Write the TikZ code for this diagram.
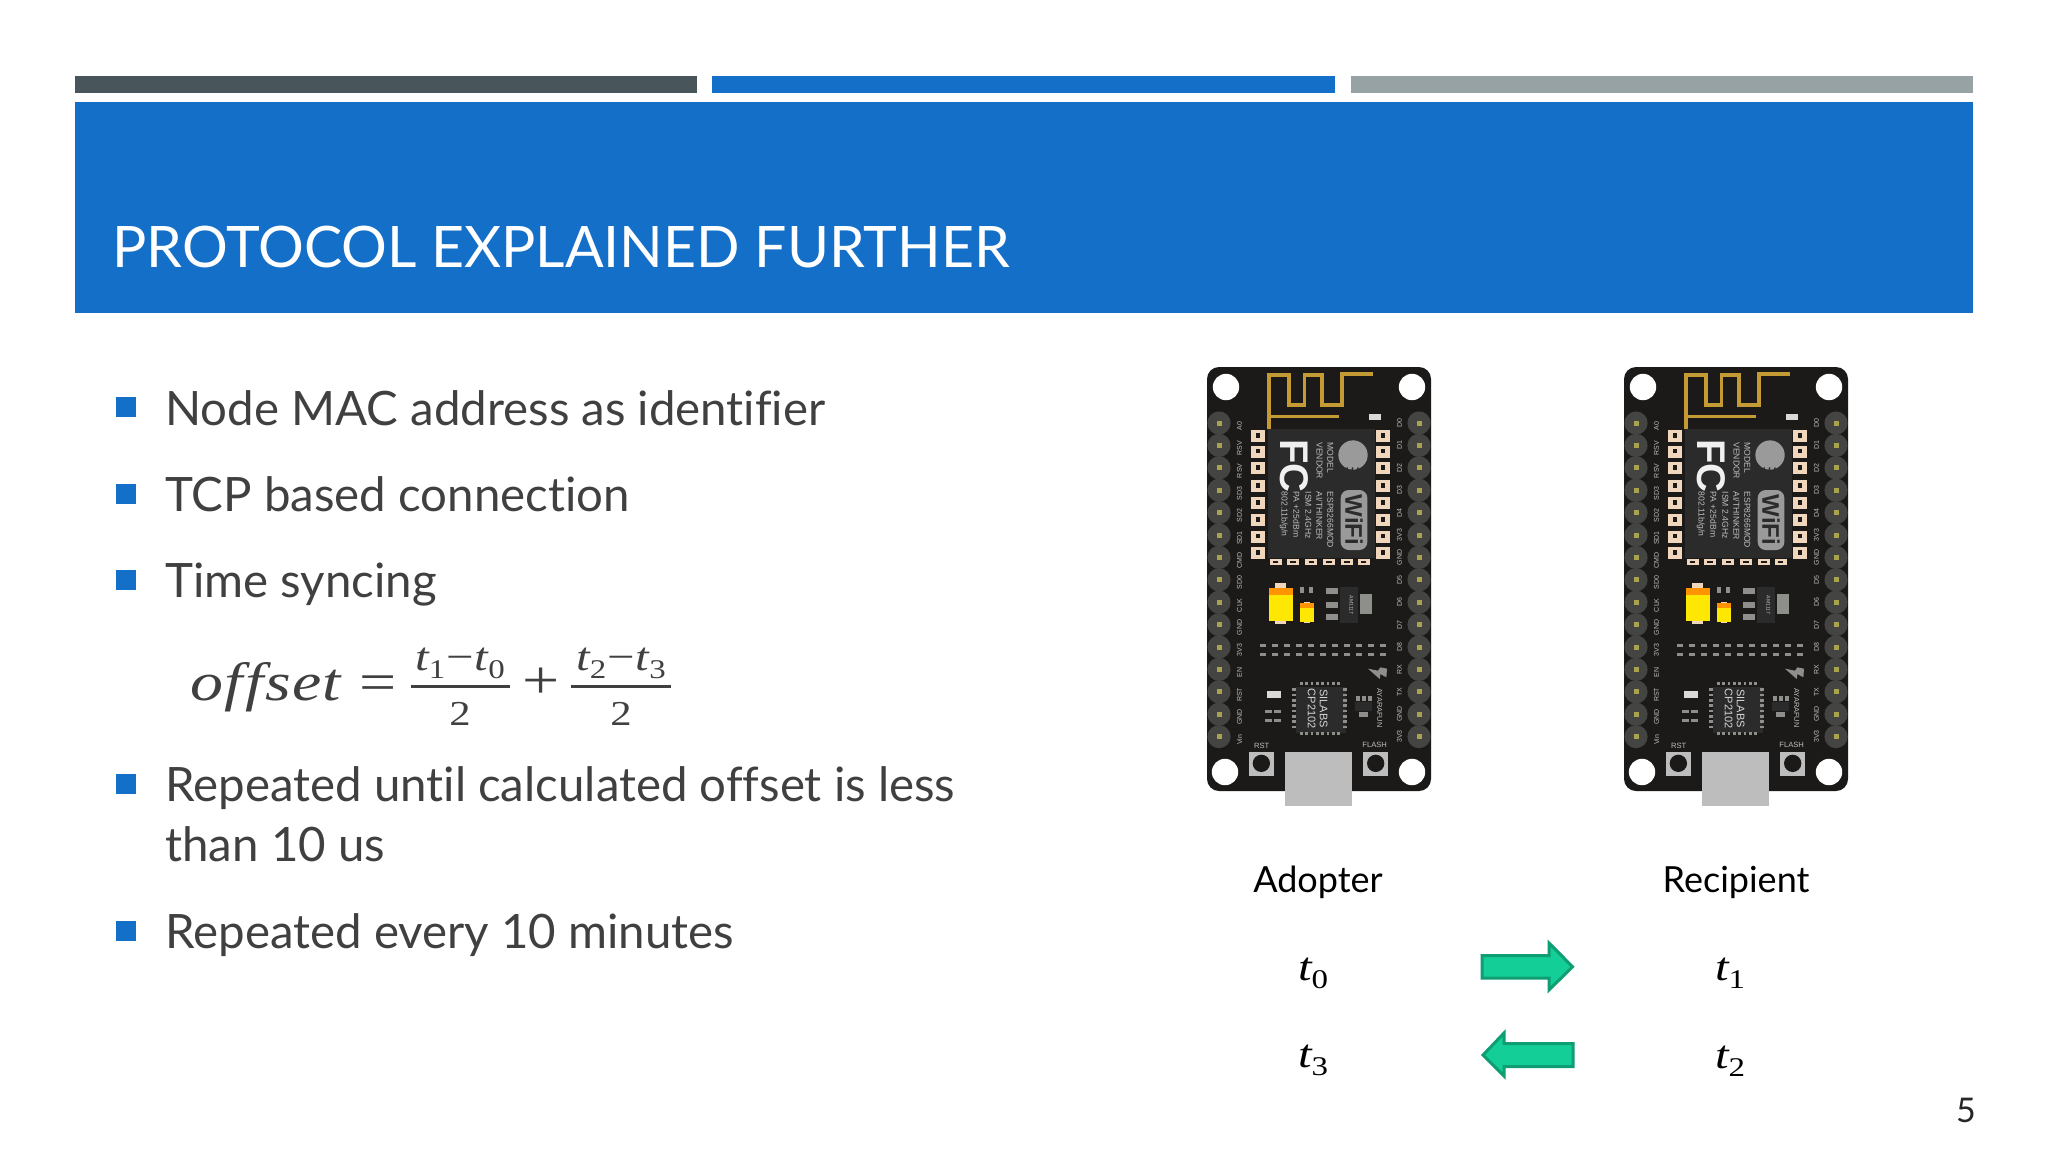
\documentclass[tikz,border=0pt]{standalone}
\usepackage{fontspec}
\setmainfont{Lato}[Ligatures=NoCommon]
\newfontfamily\boardfont{Liberation Sans}
\newfontfamily\eqfont{Liberation Serif}[FakeStretch=1.22]
\definecolor{barDark}{HTML}{48555A}
\definecolor{slideBlue}{HTML}{146FC9}
\definecolor{barGray}{HTML}{97A2A5}
\definecolor{bodyText}{HTML}{404040}
\definecolor{pcb}{HTML}{1B1A19}
\definecolor{header}{HTML}{444442}
\definecolor{pinCol}{HTML}{A9A24E}
\definecolor{gold}{HTML}{C49A35}
\definecolor{pad}{HTML}{EFD6BC}
\definecolor{chip}{HTML}{2B2B2B}
\definecolor{smd}{HTML}{8E8E8A}
\definecolor{lbl}{HTML}{BDBDBD}
\definecolor{logo}{HTML}{9A9A9A}
\definecolor{arrowFill}{HTML}{13CE96}
\definecolor{arrowEdge}{HTML}{0F9E73}
\newcommand{\fsz}[1]{\fontsize{#1}{#1}\selectfont}
% t with an upright subscript, as the slide's equation font sets it
\newcommand{\tsub}[1]{{\itshape t}\raisebox{-4pt}{\fsz{13.5}\upshape #1}}
\tikzset{
  x=0.5pt,y=-0.5pt,
  zoomA/.style={shift={(-17.33,-17)},x=0.16667pt,y=-0.16667pt},
  zoomB/.style={shift={(-17.33,203)},x=0.16667pt,y=-0.16667pt},
  bodyline/.style={anchor=base west,inner sep=0,text=bodyText,font=\fsz{23.7}},
  bullet/.style={fill=slideBlue,draw=none},
  sidelabel/.style={inner sep=0,text=black,font=\fsz{18}},
  mathlabel/.style={inner sep=0,anchor=base,text=black,font=\eqfont\fsz{20}},
  eqbig/.style={inner sep=0,anchor=base,text=bodyText,font=\eqfont\fsz{27}},
  eqsmall/.style={inner sep=0,anchor=base,text=bodyText,font=\eqfont\fsz{20}},
  eqtwo/.style={inner sep=0,anchor=base,text=bodyText,font=\eqfont\fsz{17.5}},
  eqbar/.style={draw=bodyText,line width=1.5pt},
  flowarrow/.style={fill=arrowFill,draw=arrowEdge,line width=1.5pt,line join=miter},
  pinlabel/.style={inner sep=0,rotate=90,text=lbl,font=\boardfont\fsz{3.5}},
  modtext/.style={inner sep=0,rotate=-90,anchor=north west,text=lbl,font=\boardfont\fsz{4.3}},
  pics/board/.style={code={
    \fill[pcb,rounded corners=6pt] (0,0) rectangle (224,424);
    \foreach \i in {0,...,14}{
      \fill[header] (12,56+22.4*\i) circle (11.6);
      \fill[header] (212,56+22.4*\i) circle (11.6);
      \fill[pinCol] (9.5,53.5+22.4*\i) rectangle (14.5,58.5+22.4*\i);
      \fill[pinCol] (209.5,53.5+22.4*\i) rectangle (214.5,58.5+22.4*\i);
    }
    \foreach \t [count=\i from 0] in {A0,RSV,RSV,SD3,SD2,SD1,CMD,SD0,CLK,GND,3V3,EN,RST,GND,Vin}
      \node[pinlabel] (l\i) at (32.5,59+22.4*\i) {\t};
    \foreach \t [count=\i from 0] in {D0,D1,D2,D3,D4,3V3,GND,D5,D6,D7,D8,RX,TX,GND,3V3}
      \node[pinlabel] (r\i) at (192.5,56+22.4*\i) {\t};
    \fill[white] (19,20) circle (13.2);
    \fill[white] (205,20) circle (13.2);
    \fill[white] (18,405) circle (13.2);
    \fill[white] (205,405) circle (13.2);
    \begin{scope}[zoomA]
      % antenna
      \draw[gold,line width=1.6pt,line join=miter] (238,238) -- (238,75) -- (298,75) -- (298,165) -- (345,165) -- (345,75) -- (397,75) -- (397,165) -- (457,165) -- (457,72) -- (550,72);
      \draw[gold,line width=1.6pt] (238,200) -- (448,200);
      \fill[white!85!black] (537,191) rectangle (575,211);
      % module
      \fill[chip] (235,238) rectangle (555,625);
      \foreach \y in {258,305,355,408,460,510,560,610}{
        \fill[pad] (183,\y-18) rectangle (227,\y+18);
        \fill[pcb] (198,\y-9) rectangle (212,\y+5);
        \fill[pad] (558,\y-18) rectangle (602,\y+18);
        \fill[pcb] (573,\y-9) rectangle (587,\y+5);
      }
      \foreach \x in {258,310,365,418,472,522}{
        \fill[pad] (\x-18,626) rectangle (\x+18,646);
        \fill[pcb] (\x-8,632) rectangle (\x+8,640);
      }
      % FC logo
      \node[inner sep=0,rotate=-90,text=white!88!gray,font=\boardfont\bfseries\fsz{20}] (fc) at (315,348) {FC};
      % text on the module
      \node[modtext] (m1) at (432,276) {MODEL};
      \node[modtext] (m2) at (400,276) {VENDOR};
      \node[modtext] (m3) at (432,424) {ESP8266MOD};
      \node[modtext] (m4) at (400,424) {AI/THINKER};
      \node[modtext] (m5) at (366,424) {ISM 2.4GHz};
      \node[modtext] (m6) at (331,424) {PA +25dBm};
      \node[modtext] (m7) at (296,424) {802.11b/g/n};
      % spiral logo
      \fill[logo] (490,315) circle (44);
      \foreach \r in {18,34,50}
        \draw[chip,line width=0.7pt] (455+\r,352) arc (0:90:\r);
      % WiFi badge
      \fill[logo,rounded corners=4pt] (453,420) rectangle (533,600);
      \node[inner sep=0,rotate=-90,text=chip,font=\boardfont\bfseries\fsz{12}] (wifi) at (493,510) {WiFi};
    \end{scope}
    \begin{scope}[zoomB]
      % capacitors
      \fill[pad] (255,40) rectangle (290,163);
      \fill[yellow!90!orange] (237,55) rectangle (310,152);
      \fill[orange!85!yellow] (237,55) rectangle (310,75);
      \fill[pad] (342,95) rectangle (362,160);
      \fill[yellow!90!orange] (332,100) rectangle (372,155);
      \fill[orange!85!yellow] (332,100) rectangle (372,115);
      \fill[smd] (332,50) rectangle (344,70);
      \fill[smd] (359,50) rectangle (371,70);
      % regulator
      \foreach \y in {55,95,132} \fill[smd] (410,\y) rectangle (445,\y+18);
      \fill[chip] (450,50) rectangle (505,160);
      \fill[smd] (512,73) rectangle (548,133);
      \node[inner sep=0,rotate=-90,text=lbl,font=\boardfont\fsz{2.6}] (reg) at (485,105) {AM1117};
      % dash rows
      \foreach \i in {0,...,10}{
        \fill[smd] (210+36*\i,222) rectangle (230+36*\i,231);
        \fill[smd] (210+36*\i,248) rectangle (230+36*\i,257);
      }
      % lightning logo
      \fill[smd] (535,296) -- (565,302) -- (572,292) -- (592,296) -- (590,322) -- (572,312) -- (570,327) -- cycle;
      \node[inner sep=0,rotate=-90,text=lbl,font=\boardfont\fsz{3.7}] (brand) at (570,414) {AYARAFUN};
      % USB bridge chip
      \fill[chip] (320,350) rectangle (470,490);
      \foreach \i in {0,...,7}{
        \fill[smd] (331+16*\i,335) rectangle (339+16*\i,345);
        \fill[smd] (331+16*\i,485) rectangle (339+16*\i,495);
        \fill[smd] (306,355+16*\i) rectangle (318,363+16*\i);
        \fill[smd] (460,355+16*\i) rectangle (472,363+16*\i);
      }
      \node[inner sep=0,rotate=-90,text=lbl!60!white,font=\boardfont\fsz{5.5}] (sil) at (402,416) {SILABS};
      \node[inner sep=0,rotate=-90,text=lbl!60!white,font=\boardfont\fsz{5.5}] (cp) at (366,416) {CP2102};
      % small parts
      \fill[white!85!black] (233,364) rectangle (273,384);
      \foreach \x/\y in {226/419,254/419,226/447,254/447} \fill[smd] (\x,\y) rectangle (\x+20,\y+10);
      \foreach \x in {500,518,536} \fill[smd] (\x,378) rectangle (\x+10,394);
      \fill[chip] (497,396) rectangle (548,424);
      \fill[smd] (507,427) rectangle (535,442);
      % buttons
      \fill[lbl] (178,545) rectangle (253,617);
      \fill[pcb] (215,580) circle (26);
      \fill[lbl] (520,545) rectangle (596,617);
      \fill[pcb] (558,580) circle (26);
      \node[inner sep=0,text=lbl,font=\boardfont\fsz{3.8}] (rst) at (216,527) {RST};
      \node[inner sep=0,text=lbl,font=\boardfont\fsz{3.8}] (fl) at (555,525) {FLASH};
      % USB plug
      \fill[lbl] (285,545) rectangle (488,707);
    \end{scope}
  }},
}
\begin{document}
\begin{tikzpicture}
\useasboundingbox (0,0) rectangle (2048,1152);
\fill[white] (0,0) rectangle (2048,1152);
% top bars and title band
\fill[barDark] (74.5,76) rectangle (697,93);
\fill[slideBlue] (712,76) rectangle (1335,93);
\fill[barGray] (1350.5,76) rectangle (1973,93);
\fill[slideBlue] (74.5,102) rectangle (1973,313);
\node[anchor=base west,inner sep=0,text=white,font=\fsz{28.6}] (title) at (112,267) {PROTOCOL EXPLAINED FURTHER};
% bullets
\foreach \y in {407,494,580,784,931}
  \fill[bullet] (116,\y-10) rectangle (136,\y+10);
\node[bodyline] (b1) at (165,425) {Node MAC address as identifier};
\node[bodyline] (b2) at (165,511) {TCP based connection};
\node[bodyline] (b3) at (165,597) {Time syncing};
% equation
\node[eqbig,anchor=base west] (eqv) at (190,700) {\itshape o\kern0.5pt f\kern1.5pt f\kern1pt s\kern0.5pt e\kern0.5pt t};
\node[eqbig] (eqe) at (378,700) {=};
\coordinate (f1l) at (411,686); \coordinate (f1r) at (510,686);
\coordinate (f2l) at (571,686); \coordinate (f2r) at (671,686);
\draw[eqbar] (f1l) -- (f1r);
\draw[eqbar] (f2l) -- (f2r);
\node[eqsmall] (n1) at (460,670) {\tsub{1}\kern0.5pt−\kern0.5pt\tsub{0}};
\node[eqtwo] (d1) at (460,725) {2};
\node[eqbig] (eqp) at (541,698) {+};
\node[eqsmall] (n2) at (621,670) {\tsub{2}\kern0.5pt−\kern0.5pt\tsub{3}};
\node[eqtwo] (d2) at (621,725) {2};
\node[bodyline] (b4) at (165,801) {Repeated until calculated offset is less};
\node[bodyline] (b5) at (165,861) {than 10 us};
\node[bodyline] (b6) at (165,948) {Repeated every 10 minutes};
% boards
\pic[shift={(1207,367)}] (bA) {board};
\pic[shift={(1624,367)}] (bB) {board};
% labels
\node[sidelabel,anchor=base] (adopter) at (1318,892) {Adopter};
\node[sidelabel,anchor=base] (recipient) at (1736,892) {Recipient};
\node[mathlabel] (t0) at (1313,980) {\tsub{0}};
\node[mathlabel] (t1) at (1730,980) {\tsub{1}};
\node[mathlabel] (t3) at (1313,1067) {\tsub{3}};
\node[mathlabel] (t2) at (1730,1068) {\tsub{2}};
% arrows
\draw[flowarrow] (1482,955.5) -- (1549,955.5) -- (1549,943) -- (1572.5,966.7) -- (1549,990) -- (1549,978) -- (1482,978) -- cycle;
\draw[flowarrow] (1573,1043.5) -- (1504,1043.5) -- (1504,1033) -- (1483,1055) -- (1504,1076) -- (1504,1066.5) -- (1573,1066.5) -- cycle;
% page number
\node[inner sep=0,anchor=base,text=bodyText!60!black,font=\fsz{17}] (page) at (1966,1122) {5};
\end{tikzpicture}
\end{document}
